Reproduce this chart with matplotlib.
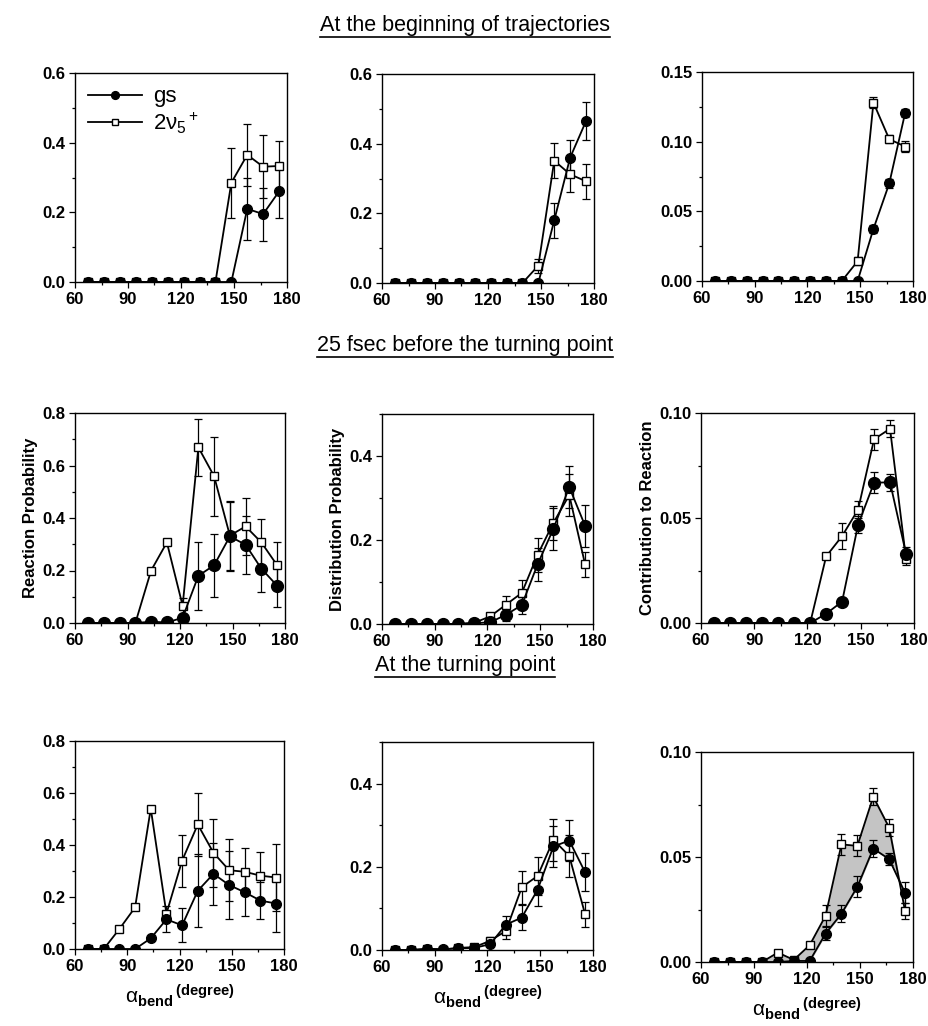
import numpy as np
import matplotlib.pyplot as plt
from matplotlib.lines import Line2D

plt.rcParams['font.family'] = ['Liberation Sans', 'DejaVu Sans']
plt.rcParams['mathtext.fontset'] = 'custom'
plt.rcParams['mathtext.rm'] = 'Liberation Sans'
plt.rcParams['mathtext.it'] = 'Liberation Sans:italic'
plt.rcParams['mathtext.bf'] = 'Liberation Sans:bold'

# bin centres of alpha_bend (degree)
angle = [67.5, 76.5, 85.5, 94.5, 103.5, 112.5, 121.5, 130.5, 139.5, 148.5, 157.5, 166.5, 175.5]

# row 1: at the beginning of trajectories
r1_react_gs = [0, 0, 0, 0, 0, 0, 0, 0, 0, 0, 0.21, 0.195, 0.26]
r1_react_gs_err = [0, 0, 0, 0, 0, 0, 0, 0, 0, 0, 0.09, 0.076, 0.075]
r1_react_v5 = [0, 0, 0, 0, 0, 0, 0, 0, 0, 0.285, 0.365, 0.331, 0.333]
r1_react_v5_err = [0, 0, 0, 0, 0, 0, 0, 0, 0, 0.1, 0.09, 0.09, 0.073]

r1_dist_gs = [0, 0, 0, 0, 0, 0, 0, 0, 0, 0, 0.18, 0.36, 0.465]
r1_dist_gs_err = [0, 0, 0, 0, 0, 0, 0, 0, 0, 0, 0.05, 0.05, 0.055]
r1_dist_v5 = [0, 0, 0, 0, 0, 0, 0, 0, 0, 0.05, 0.351, 0.312, 0.292]
r1_dist_v5_err = [0, 0, 0, 0, 0, 0, 0, 0, 0, 0.02, 0.05, 0.05, 0.05]

r1_contr_gs = [0, 0, 0, 0, 0, 0, 0, 0, 0, 0, 0.0374, 0.070, 0.1205]
r1_contr_gs_err = [0, 0, 0, 0, 0, 0, 0, 0, 0, 0, 0.003, 0.003, 0.003]
r1_contr_v5 = [0, 0, 0, 0, 0, 0, 0, 0, 0, 0.0142, 0.128, 0.1018, 0.0965]
r1_contr_v5_err = [0, 0, 0, 0, 0, 0, 0, 0, 0, 0.003, 0.004, 0.003, 0.004]

# row 2: 25 fsec before the turning point
r2_react_gs = [0, 0, 0, 0, 0.005, 0.002, 0.02, 0.18, 0.22, 0.33, 0.298, 0.207, 0.142]
r2_react_gs_err = [0, 0, 0, 0, 0, 0, 0, 0.13, 0.12, 0.13, 0.11, 0.09, 0.08]
r2_react_v5 = [0, 0, 0, 0, 0.2, 0.307, 0.066, 0.669, 0.559, 0.333, 0.368, 0.307, 0.22]
r2_react_v5_err = [0, 0, 0, 0, 0, 0, 0.03, 0.11, 0.15, 0.13, 0.11, 0.09, 0.09]

r2_dist_gs = [0, 0, 0, 0, 0, 0.002, 0.004, 0.022, 0.045, 0.142, 0.227, 0.326, 0.234]
r2_dist_gs_err = [0, 0, 0, 0, 0, 0, 0, 0.015, 0.02, 0.04, 0.05, 0.05, 0.05]
r2_dist_v5 = [0, 0, 0, 0, 0, 0.003, 0.018, 0.046, 0.074, 0.165, 0.241, 0.307, 0.142]
r2_dist_v5_err = [0, 0, 0, 0, 0, 0, 0, 0.02, 0.03, 0.04, 0.04, 0.05, 0.03]

r2_contr_gs = [0, 0, 0, 0, 0, 0, 0, 0.0044, 0.0102, 0.0468, 0.0668, 0.067, 0.033]
r2_contr_gs_err = [0, 0, 0, 0, 0, 0, 0, 0, 0.0015, 0.004, 0.005, 0.004, 0.003]
r2_contr_v5 = [0, 0, 0, 0, 0, 0, 0, 0.0317, 0.0414, 0.054, 0.0875, 0.0925, 0.0306]
r2_contr_v5_err = [0, 0, 0, 0, 0, 0, 0, 0.001, 0.006, 0.004, 0.005, 0.004, 0.003]

# row 3: at the turning point
r3_react_gs = [0, 0, 0, 0, 0.041, 0.114, 0.091, 0.224, 0.289, 0.246, 0.218, 0.186, 0.175]
r3_react_gs_err = [0, 0, 0, 0, 0, 0.05, 0.065, 0.14, 0.12, 0.13, 0.09, 0.07, 0.11]
r3_react_v5 = [0, 0, 0.077, 0.16, 0.54, 0.136, 0.34, 0.479, 0.37, 0.303, 0.297, 0.282, 0.275]
r3_react_v5_err = [0, 0, 0, 0, 0, 0, 0.1, 0.12, 0.13, 0.12, 0.09, 0.09, 0.13]

r3_dist_gs = [0, 0, 0.003, 0.002, 0.004, 0.005, 0.014, 0.061, 0.078, 0.145, 0.249, 0.263, 0.187]
r3_dist_gs_err = [0, 0, 0, 0, 0, 0, 0, 0.02, 0.03, 0.04, 0.05, 0.05, 0.045]
r3_dist_v5 = [0, 0, 0.002, 0.001, 0.005, 0.007, 0.022, 0.046, 0.151, 0.178, 0.265, 0.226, 0.086]
r3_dist_v5_err = [0, 0, 0, 0, 0, 0, 0.01, 0.02, 0.04, 0.045, 0.05, 0.05, 0.03]

r3_contr_gs = [0, 0, 0, 0, 0, 0.0005, 0.0005, 0.0135, 0.023, 0.0358, 0.054, 0.049, 0.0329]
r3_contr_gs_err = [0, 0, 0, 0, 0, 0, 0, 0.003, 0.004, 0.005, 0.004, 0.003, 0.005]
r3_contr_v5 = [0, 0, 0, 0, 0.0045, 0.001, 0.008, 0.022, 0.056, 0.0553, 0.0787, 0.064, 0.0243]
r3_contr_v5_err = [0, 0, 0, 0, 0, 0, 0, 0.005, 0.005, 0.005, 0.004, 0.004, 0.004]

row_titles = ['At the beginning of trajectories',
              '25 fsec before the turning point',
              'At the turning point']
ylabels = ['Reaction Probability', 'Distribution Probability', 'Contribution to Reaction']

W, H = 929, 1026
fig = plt.figure(figsize=(W / 100, H / 100), dpi=100)

# axes boxes in pixels: left, top, right, bottom
boxes = [
    [(75, 73, 287, 282), (382, 74, 594, 283), (702, 72, 913, 281)],
    [(75, 413, 285, 623), (382, 414, 593, 624), (701, 413, 914, 623)],
    [(75, 741, 284, 949), (382, 742, 593, 950), (701, 752, 913, 962)],
]

panels = [
    [(r1_react_gs, r1_react_gs_err, r1_react_v5, r1_react_v5_err, 0.6, [0, 0.2, 0.4, 0.6], '%.1f'),
     (r1_dist_gs, r1_dist_gs_err, r1_dist_v5, r1_dist_v5_err, 0.6, [0, 0.2, 0.4, 0.6], '%.1f'),
     (r1_contr_gs, r1_contr_gs_err, r1_contr_v5, r1_contr_v5_err, 0.15, [0, 0.05, 0.10, 0.15], '%.2f')],
    [(r2_react_gs, r2_react_gs_err, r2_react_v5, r2_react_v5_err, 0.8, [0, 0.2, 0.4, 0.6, 0.8], '%.1f'),
     (r2_dist_gs, r2_dist_gs_err, r2_dist_v5, r2_dist_v5_err, 0.5, [0, 0.2, 0.4], '%.1f'),
     (r2_contr_gs, r2_contr_gs_err, r2_contr_v5, r2_contr_v5_err, 0.10, [0, 0.05, 0.10], '%.2f')],
    [(r3_react_gs, r3_react_gs_err, r3_react_v5, r3_react_v5_err, 0.8, [0, 0.2, 0.4, 0.6, 0.8], '%.1f'),
     (r3_dist_gs, r3_dist_gs_err, r3_dist_v5, r3_dist_v5_err, 0.5, [0, 0.2, 0.4], '%.1f'),
     (r3_contr_gs, r3_contr_gs_err, r3_contr_v5, r3_contr_v5_err, 0.10, [0, 0.05, 0.10], '%.2f')],
]

x = np.array(angle)

for r in range(3):
    for c in range(3):
        l, t, rr, b = boxes[r][c]
        ax = fig.add_axes([l / W, 1 - b / H, (rr - l) / W, (b - t) / H])
        gs, gs_err, v5, v5_err, ymax, yt, fmt = panels[r][c]
        gs = np.array(gs); v5 = np.array(v5)
        gs_err = np.array(gs_err); v5_err = np.array(v5_err)

        if r == 2 and c == 2:
            ax.fill_between(x, gs, v5, color='#c4c4c4', zorder=1)

        msz = 8.5 if r == 1 else 7
        for y, e in ((v5, v5_err), (gs, gs_err)):
            m = e > 0
            ax.errorbar(x[m], y[m], yerr=e[m], fmt='none', ecolor='black',
                        elinewidth=0.9, capsize=2.8, capthick=0.9, zorder=2)
        ax.plot(x, v5, '-s', color='black', mfc='white', mec='black', ms=5.5,
                mew=1.0, lw=1.3, zorder=3, label=r'2$\mathrm{\nu}_5$$^+$')
        ax.plot(x, gs, '-o', color='black', mfc='black', ms=msz, lw=1.3,
                zorder=4, label='gs')

        ax.set_xlim(60, 180)
        ax.set_ylim(0, ymax)
        ax.set_xticks([60, 90, 120, 150, 180])
        ax.set_yticks(yt)
        ax.set_yticks(np.arange(0, ymax + 1e-9, (yt[1] - yt[0]) / 2), minor=True)
        ax.set_xticks(np.arange(60, 181, 15), minor=True)
        ax.set_yticklabels([fmt % v for v in yt])
        ax.tick_params(which='both', direction='out', top=False, right=False,
                       labelsize=12, width=0.9, pad=3)
        ax.tick_params(which='major', length=4)
        ax.tick_params(which='minor', length=2)
        for lab in ax.get_xticklabels() + ax.get_yticklabels():
            lab.set_fontweight('bold')
        for sp in ax.spines.values():
            sp.set_linewidth(1.0)

        if r == 1:
            ax.set_ylabel(ylabels[c], fontsize=12, fontweight='bold', labelpad=3)
        if r == 2:
            ax.set_xlabel(r'$\mathrm{\alpha}_{\mathbf{bend}}\,^{\mathbf{(degree)}}$',
                          fontsize=15, labelpad=6)
        if r == 0 and c == 0:
            h, lb = ax.get_legend_handles_labels()
            ax.legend(h[::-1], lb[::-1], loc='upper left', frameon=False,
                      fontsize=16, handlelength=2.4, borderaxespad=0.2,
                      handletextpad=0.5, labelspacing=0.15, markerscale=0.8)

# row titles with underline
title_y = [25, 345, 665]
fig.canvas.draw()
renderer = fig.canvas.get_renderer()
for ty, txt in zip(title_y, row_titles):
    t = fig.text(465 / W, 1 - ty / H, txt, ha='center', va='center', fontsize=15.5)
    bb = t.get_window_extent(renderer)
    yline = (bb.y0 - 1) / H
    fig.add_artist(Line2D([bb.x0 / W, bb.x1 / W], [yline, yline],
                          color='black', lw=1.2, transform=fig.transFigure))

fig.savefig('out.png', dpi=100)
